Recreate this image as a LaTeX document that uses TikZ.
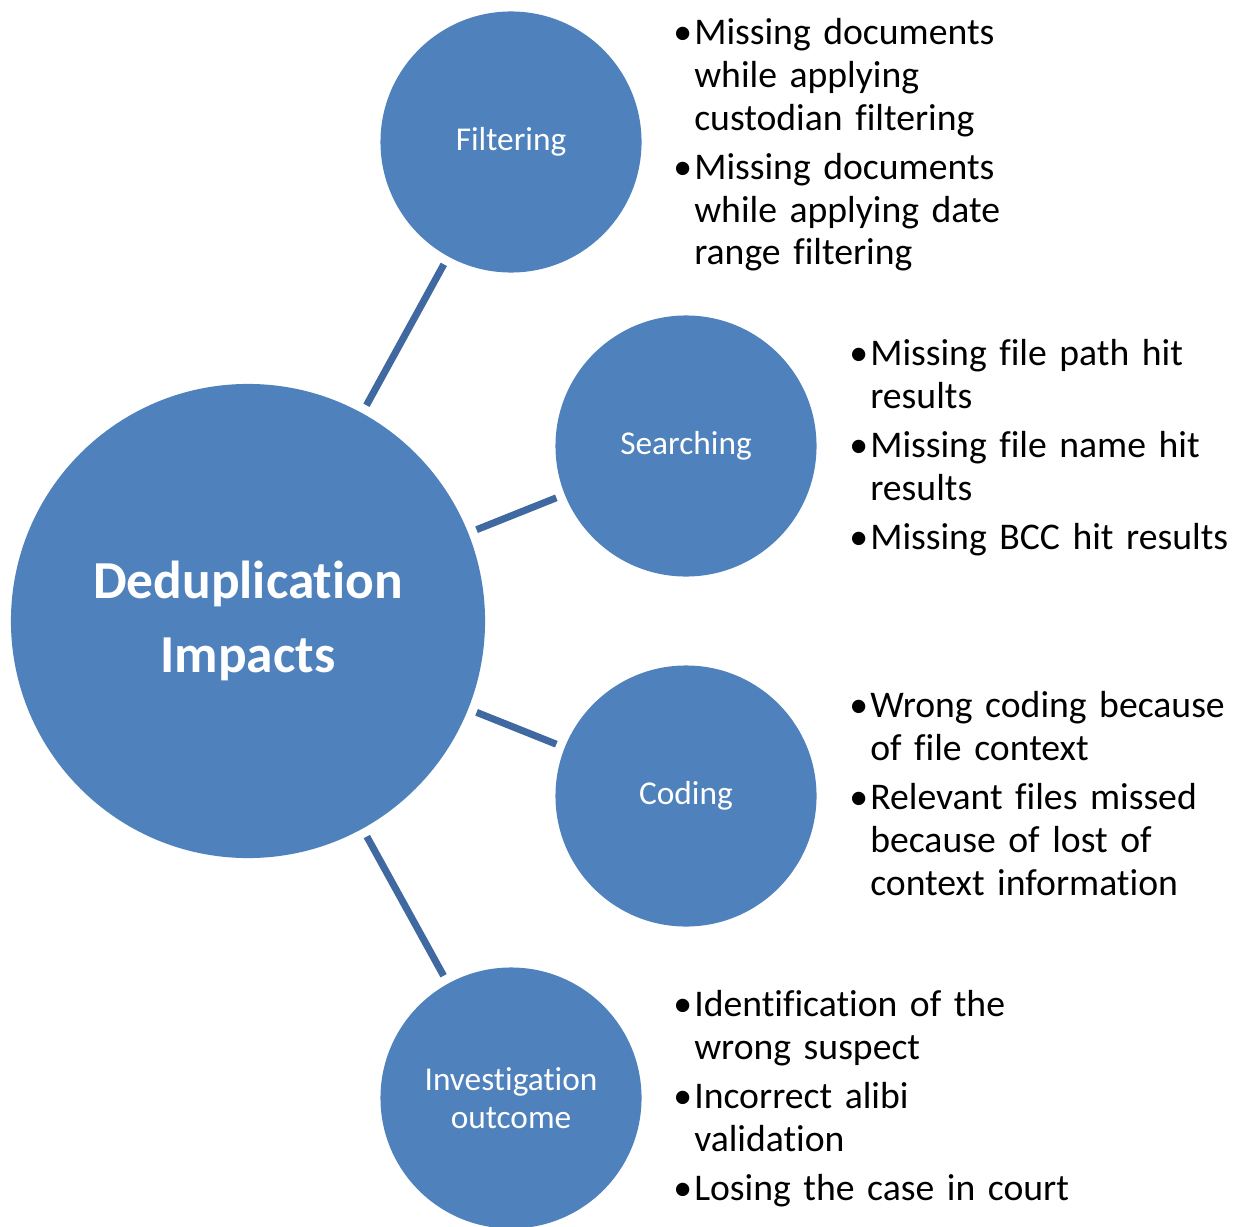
\documentclass[tikz,border=0pt]{standalone}
\usepackage{fontspec}
\setmainfont{Carlito}[Ligatures=NoCommon]
\usetikzlibrary{positioning}
\definecolor{circblue}{HTML}{4F81BD}
\definecolor{linkblue}{HTML}{3F69A0}
\newcommand{\bitem}[1]{\hangindent=0.525cm\hangafter=1\noindent
  \makebox[0.525cm][l]{\textbullet}{\let\\\newline #1}\par}
\tikzset{
  hub/.style={circle, fill=circblue, text=white, minimum size=11.85cm, inner sep=0pt,
    font=\fontsize{38}{53}\selectfont\bfseries, align=center},
  topic/.style={circle, fill=circblue, text=white, minimum size=6.525cm, inner sep=0pt,
    font=\fontsize{23.7}{27}\selectfont, align=center},
  link/.style={draw=linkblue, line width=5pt, shorten <=0.22cm, shorten >=0.22cm},
  notes/.style={anchor=north west, inner sep=0pt, text width=11cm,
    font=\fontsize{26.8}{30.5}\selectfont\raggedright\setlength{\parskip}{4.3pt}}
}
\begin{document}
\begin{tikzpicture}[x=0.025cm, y=-0.025cm]
  \useasboundingbox (0,0) rectangle (1234,1227);

  % Cercles
  \node[hub] (dedup) at (248,621) {Deduplication\\Impacts};
  \node[topic] (filt) at (511,142) {Filtering};
  \node[topic] (search) at (686,446) {Searching};
  \node[topic] (coding) at (686,796) {Coding};
  \node[topic] (invest) at (511,1098) {Investigation\\outcome};

  % Liens
  \draw[link] (dedup) -- (filt);
  \draw[link] (dedup) -- (search);
  \draw[link] (dedup) -- (coding);
  \draw[link] (dedup) -- (invest);

  % Listes
  \node[notes] (filtnotes) at (673,18) {%
    \bitem{Missing documents\\while applying\\custodian filtering}
    \bitem{Missing documents\\while applying date\\range filtering}};
  \node[notes] (searchnotes) at (849,339) {%
    \bitem{Missing file path hit\\results}
    \bitem{Missing file name hit\\results}
    \bitem{Missing BCC hit results}};
  \node[notes] (codingnotes) at (849,691) {%
    \bitem{Wrong coding because\\of file context}
    \bitem{Relevant files missed\\because of lost of\\context information}};
  \node[notes] (investnotes) at (673,990) {%
    \bitem{Identification of the\\wrong suspect}
    \bitem{Incorrect alibi\\validation}
    \bitem{Losing the case in court}};
\end{tikzpicture}
\end{document}
